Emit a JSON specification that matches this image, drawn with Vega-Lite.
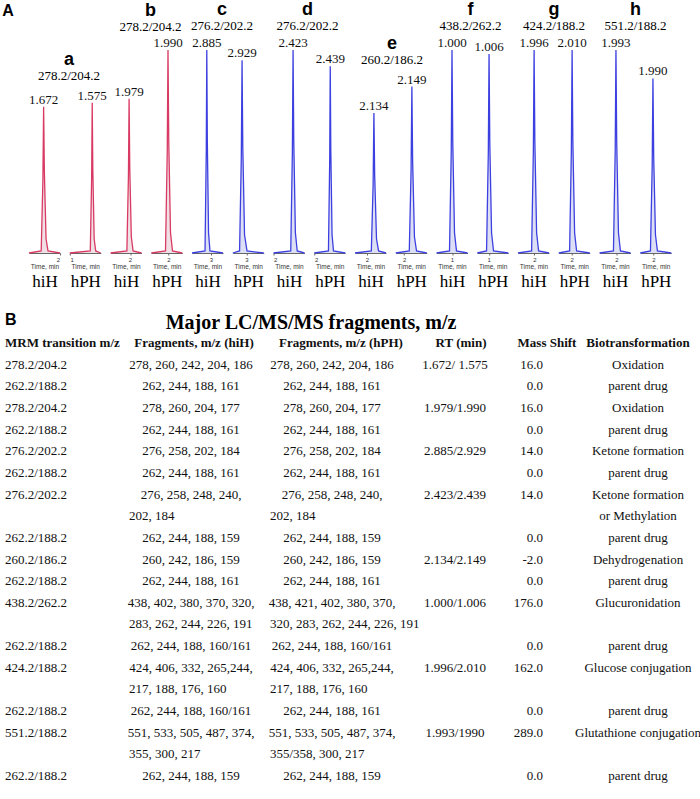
{
 "$schema": "https://vega.github.io/schema/vega-lite/v6.json",
 "background": "white",
 "padding": {"left": 2, "top": 1, "right": 0, "bottom": 0},
 "datasets": {
  "trace": [
   {"p":"a","s":"hiH","t":1.37,"i":0},{"p":"a","s":"hiH","t":1.622,"i":1},{"p":"a","s":"hiH","t":1.657,"i":36},{"p":"a","s":"hiH","t":1.672,"i":72},{"p":"a","s":"hiH","t":1.687,"i":40},{"p":"a","s":"hiH","t":1.722,"i":7},{"p":"a","s":"hiH","t":1.762,"i":1},{"p":"a","s":"hiH","t":2.01,"i":0},
   {"p":"a","s":"hPH","t":0.995,"i":0},{"p":"a","s":"hPH","t":1.525,"i":1},{"p":"a","s":"hPH","t":1.56,"i":37},{"p":"a","s":"hPH","t":1.575,"i":74},{"p":"a","s":"hPH","t":1.59,"i":41},{"p":"a","s":"hPH","t":1.625,"i":7},{"p":"a","s":"hPH","t":1.665,"i":1},{"p":"a","s":"hPH","t":1.795,"i":0},
   {"p":"b","s":"hiH","t":1.559,"i":0},{"p":"b","s":"hiH","t":1.929,"i":1},{"p":"b","s":"hiH","t":1.964,"i":38},{"p":"b","s":"hiH","t":1.979,"i":76},{"p":"b","s":"hiH","t":1.994,"i":42},{"p":"b","s":"hiH","t":2.029,"i":8},{"p":"b","s":"hiH","t":2.069,"i":1},{"p":"b","s":"hiH","t":2.259,"i":0},
   {"p":"b","s":"hPH","t":1.655,"i":0},{"p":"b","s":"hPH","t":1.94,"i":1},{"p":"b","s":"hPH","t":1.975,"i":50},{"p":"b","s":"hPH","t":1.99,"i":100},{"p":"b","s":"hPH","t":2.005,"i":55},{"p":"b","s":"hPH","t":2.04,"i":10},{"p":"b","s":"hPH","t":2.08,"i":1},{"p":"b","s":"hPH","t":2.275,"i":0},
   {"p":"c","s":"hiH","t":2.465,"i":0},{"p":"c","s":"hiH","t":2.835,"i":1},{"p":"c","s":"hiH","t":2.87,"i":50},{"p":"c","s":"hiH","t":2.885,"i":100},{"p":"c","s":"hiH","t":2.9,"i":55},{"p":"c","s":"hiH","t":2.935,"i":10},{"p":"c","s":"hiH","t":2.975,"i":1},{"p":"c","s":"hiH","t":3.345,"i":0},
   {"p":"c","s":"hPH","t":2.779,"i":0},{"p":"c","s":"hPH","t":2.889,"i":1},{"p":"c","s":"hPH","t":2.917,"i":47},{"p":"c","s":"hPH","t":2.929,"i":95},{"p":"c","s":"hPH","t":2.941,"i":52},{"p":"c","s":"hPH","t":2.969,"i":9},{"p":"c","s":"hPH","t":3.009,"i":1},{"p":"c","s":"hPH","t":3.279,"i":0},
   {"p":"d","s":"hiH","t":2.0,"i":0},{"p":"d","s":"hiH","t":2.373,"i":1},{"p":"d","s":"hiH","t":2.408,"i":50},{"p":"d","s":"hiH","t":2.423,"i":100},{"p":"d","s":"hiH","t":2.438,"i":55},{"p":"d","s":"hiH","t":2.473,"i":10},{"p":"d","s":"hiH","t":2.513,"i":1},{"p":"d","s":"hiH","t":2.67,"i":0},
   {"p":"d","s":"hPH","t":1.995,"i":0},{"p":"d","s":"hPH","t":2.389,"i":1},{"p":"d","s":"hPH","t":2.424,"i":46},{"p":"d","s":"hPH","t":2.439,"i":92},{"p":"d","s":"hPH","t":2.454,"i":51},{"p":"d","s":"hPH","t":2.489,"i":9},{"p":"d","s":"hPH","t":2.529,"i":1},{"p":"d","s":"hPH","t":2.855,"i":0},
   {"p":"e","s":"hiH","t":1.768,"i":0},{"p":"e","s":"hiH","t":2.084,"i":1},{"p":"e","s":"hiH","t":2.119,"i":34},{"p":"e","s":"hiH","t":2.134,"i":69},{"p":"e","s":"hiH","t":2.149,"i":38},{"p":"e","s":"hiH","t":2.184,"i":7},{"p":"e","s":"hiH","t":2.224,"i":1},{"p":"e","s":"hiH","t":2.368,"i":0},
   {"p":"e","s":"hPH","t":1.837,"i":0},{"p":"e","s":"hPH","t":2.099,"i":1},{"p":"e","s":"hPH","t":2.134,"i":41},{"p":"e","s":"hPH","t":2.149,"i":82},{"p":"e","s":"hPH","t":2.164,"i":45},{"p":"e","s":"hPH","t":2.199,"i":8},{"p":"e","s":"hPH","t":2.239,"i":1},{"p":"e","s":"hPH","t":2.437,"i":0},
   {"p":"f","s":"hiH","t":0.69,"i":0},{"p":"f","s":"hiH","t":0.95,"i":1},{"p":"f","s":"hiH","t":0.985,"i":50},{"p":"f","s":"hiH","t":1.0,"i":100},{"p":"f","s":"hiH","t":1.015,"i":55},{"p":"f","s":"hiH","t":1.05,"i":10},{"p":"f","s":"hiH","t":1.09,"i":1},{"p":"f","s":"hiH","t":1.31,"i":0},
   {"p":"f","s":"hPH","t":0.77,"i":0},{"p":"f","s":"hPH","t":0.956,"i":1},{"p":"f","s":"hPH","t":0.991,"i":49},{"p":"f","s":"hPH","t":1.006,"i":98},{"p":"f","s":"hPH","t":1.021,"i":54},{"p":"f","s":"hPH","t":1.056,"i":10},{"p":"f","s":"hPH","t":1.096,"i":1},{"p":"f","s":"hPH","t":1.39,"i":0},
   {"p":"g","s":"hiH","t":1.674,"i":0},{"p":"g","s":"hiH","t":1.946,"i":1},{"p":"g","s":"hiH","t":1.981,"i":50},{"p":"g","s":"hiH","t":1.996,"i":100},{"p":"g","s":"hiH","t":2.011,"i":55},{"p":"g","s":"hiH","t":2.046,"i":10},{"p":"g","s":"hiH","t":2.086,"i":1},{"p":"g","s":"hiH","t":2.294,"i":0},
   {"p":"g","s":"hPH","t":1.743,"i":0},{"p":"g","s":"hPH","t":1.96,"i":1},{"p":"g","s":"hPH","t":1.995,"i":50},{"p":"g","s":"hPH","t":2.01,"i":100},{"p":"g","s":"hPH","t":2.025,"i":55},{"p":"g","s":"hPH","t":2.06,"i":10},{"p":"g","s":"hPH","t":2.1,"i":1},{"p":"g","s":"hPH","t":2.363,"i":0},
   {"p":"h","s":"hiH","t":1.664,"i":0},{"p":"h","s":"hiH","t":1.943,"i":1},{"p":"h","s":"hiH","t":1.978,"i":50},{"p":"h","s":"hiH","t":1.993,"i":100},{"p":"h","s":"hiH","t":2.008,"i":55},{"p":"h","s":"hiH","t":2.043,"i":10},{"p":"h","s":"hiH","t":2.083,"i":1},{"p":"h","s":"hiH","t":2.284,"i":0},
   {"p":"h","s":"hPH","t":1.736,"i":0},{"p":"h","s":"hPH","t":1.94,"i":1},{"p":"h","s":"hPH","t":1.975,"i":43},{"p":"h","s":"hPH","t":1.99,"i":86},{"p":"h","s":"hPH","t":2.005,"i":47},{"p":"h","s":"hPH","t":2.04,"i":9},{"p":"h","s":"hPH","t":2.08,"i":1},{"p":"h","s":"hPH","t":2.356,"i":0}
  ],
  "headers": [
   {"l":-1,"c":0,"t":"MRM transition m/z"},{"l":-1,"c":1,"t":"Fragments, m/z (hiH)"},{"l":-1,"c":2,"t":"Fragments, m/z (hPH)"},{"l":-1,"c":3,"t":"RT (min)"},{"l":-1,"c":4,"t":"Mass Shift"},{"l":-1,"c":5,"t":"Biotransformation"}
  ],
  "cells": [
   {"l":0,"c":0,"t":"278.2/204.2"},{"l":0,"c":1,"t":"278, 260, 242, 204, 186"},{"l":0,"c":2,"t":"278, 260, 242, 204, 186"},{"l":0,"c":3,"t":"1.672/ 1.575"},{"l":0,"c":4,"t":"16.0"},{"l":0,"c":5,"t":"Oxidation"},
   {"l":1,"c":0,"t":"262.2/188.2"},{"l":1,"c":1,"t":"262, 244, 188, 161"},{"l":1,"c":2,"t":"262, 244, 188, 161"},{"l":1,"c":4,"t":"0.0"},{"l":1,"c":5,"t":"parent drug"},
   {"l":2,"c":0,"t":"278.2/204.2"},{"l":2,"c":1,"t":"278, 260, 204, 177"},{"l":2,"c":2,"t":"278, 260, 204, 177"},{"l":2,"c":3,"t":"1.979/1.990"},{"l":2,"c":4,"t":"16.0"},{"l":2,"c":5,"t":"Oxidation"},
   {"l":3,"c":0,"t":"262.2/188.2"},{"l":3,"c":1,"t":"262, 244, 188, 161"},{"l":3,"c":2,"t":"262, 244, 188, 161"},{"l":3,"c":4,"t":"0.0"},{"l":3,"c":5,"t":"parent drug"},
   {"l":4,"c":0,"t":"276.2/202.2"},{"l":4,"c":1,"t":"276, 258, 202, 184"},{"l":4,"c":2,"t":"276, 258, 202, 184"},{"l":4,"c":3,"t":"2.885/2.929"},{"l":4,"c":4,"t":"14.0"},{"l":4,"c":5,"t":"Ketone formation"},
   {"l":5,"c":0,"t":"262.2/188.2"},{"l":5,"c":1,"t":"262, 244, 188, 161"},{"l":5,"c":2,"t":"262, 244, 188, 161"},{"l":5,"c":4,"t":"0.0"},{"l":5,"c":5,"t":"parent drug"},
   {"l":6,"c":0,"t":"276.2/202.2"},{"l":6,"c":1,"t":"276, 258, 248, 240,"},{"l":6,"c":2,"t":"276, 258, 248, 240,"},{"l":6,"c":3,"t":"2.423/2.439"},{"l":6,"c":4,"t":"14.0"},{"l":6,"c":5,"t":"Ketone formation"},
   {"l":7,"c":1,"t":"202, 184","p":2},{"l":7,"c":2,"t":"202, 184","p":2},{"l":7,"c":5,"t":"or Methylation","p":2},
   {"l":8,"c":0,"t":"262.2/188.2"},{"l":8,"c":1,"t":"262, 244, 188, 159"},{"l":8,"c":2,"t":"262, 244, 188, 159"},{"l":8,"c":4,"t":"0.0"},{"l":8,"c":5,"t":"parent drug"},
   {"l":9,"c":0,"t":"260.2/186.2"},{"l":9,"c":1,"t":"260, 242, 186, 159"},{"l":9,"c":2,"t":"260, 242, 186, 159"},{"l":9,"c":3,"t":"2.134/2.149"},{"l":9,"c":4,"t":"-2.0"},{"l":9,"c":5,"t":"Dehydrogenation"},
   {"l":10,"c":0,"t":"262.2/188.2"},{"l":10,"c":1,"t":"262, 244, 188, 161"},{"l":10,"c":2,"t":"262, 244, 188, 161"},{"l":10,"c":4,"t":"0.0"},{"l":10,"c":5,"t":"parent drug"},
   {"l":11,"c":0,"t":"438.2/262.2"},{"l":11,"c":1,"t":"438, 402, 380, 370, 320,"},{"l":11,"c":2,"t":"438, 421, 402, 380, 370,"},{"l":11,"c":3,"t":"1.000/1.006"},{"l":11,"c":4,"t":"176.0"},{"l":11,"c":5,"t":"Glucuronidation"},
   {"l":12,"c":1,"t":"283, 262, 244, 226, 191","p":2},{"l":12,"c":2,"t":"320, 283, 262, 244, 226, 191","p":2},
   {"l":13,"c":0,"t":"262.2/188.2"},{"l":13,"c":1,"t":"262, 244, 188, 160/161"},{"l":13,"c":2,"t":"262, 244, 188, 160/161"},{"l":13,"c":4,"t":"0.0"},{"l":13,"c":5,"t":"parent drug"},
   {"l":14,"c":0,"t":"424.2/188.2"},{"l":14,"c":1,"t":"424, 406, 332, 265,244,"},{"l":14,"c":2,"t":"424, 406, 332, 265,244,"},{"l":14,"c":3,"t":"1.996/2.010"},{"l":14,"c":4,"t":"162.0"},{"l":14,"c":5,"t":"Glucose conjugation"},
   {"l":15,"c":1,"t":"217, 188, 176, 160","p":2},{"l":15,"c":2,"t":"217, 188, 176, 160","p":2},
   {"l":16,"c":0,"t":"262.2/188.2"},{"l":16,"c":1,"t":"262, 244, 188, 160/161"},{"l":16,"c":2,"t":"262, 244, 188, 161"},{"l":16,"c":4,"t":"0.0"},{"l":16,"c":5,"t":"parent drug"},
   {"l":17,"c":0,"t":"551.2/188.2"},{"l":17,"c":1,"t":"551, 533, 505, 487, 374,"},{"l":17,"c":2,"t":"551, 533, 505, 487, 374,"},{"l":17,"c":3,"t":"1.993/1990"},{"l":17,"c":4,"t":"289.0"},{"l":17,"c":5,"t":"Glutathione conjugation"},
   {"l":18,"c":1,"t":"355, 300, 217","p":2},{"l":18,"c":2,"t":"355/358, 300, 217","p":2},
   {"l":19,"c":0,"t":"262.2/188.2"},{"l":19,"c":1,"t":"262, 244, 188, 159"},{"l":19,"c":2,"t":"262, 244, 188, 159"},{"l":19,"c":4,"t":"0.0"},{"l":19,"c":5,"t":"parent drug"}
  ]
 },
 "vconcat": [
  {
   "data": {"name": "trace"},
   "title": {"text": "A", "orient": "left", "angle": 0, "anchor": "end", "align": "right", "baseline": "top", "offset": 1, "fontSize": 16, "dy": 2},
   "spacing": 9.75,
   "bounds": "flush",
   "hconcat": [
    {"transform":[{"filter":"datum.p=='a' && datum.s=='hiH'"}],"title":{"text":"a","subtitle":"278.2/204.2","anchor":"end","frame":"group","align":"center","dx":9,"offset":-32.5},"width":31,"height":203,"resolve":{"axis":{"x":"independent"}},"layer":[
      {"mark":{"type":"area","color":"#ead3da","line":{"color":"#d93a63","strokeWidth":1.3}},"encoding":{"x":{"field":"t","type":"quantitative","scale":{"zero":false,"nice":false},"axis":{"values":[1,2,3],"format":"d","title":"Time, min"}},"y":{"field":"i","type":"quantitative","scale":{"domain":[0,100],"nice":false},"axis":null}}},
      {"transform":[{"joinaggregate":[{"op":"max","field":"i","as":"m"}]},{"filter":"datum.i==datum.m"}],"mark":{"type":"text","dy":-7},"encoding":{"x":{"field":"t","type":"quantitative","axis":{"orient":"bottom","offset":20,"title":"hiH","domain":false,"ticks":false,"labels":false,"titleFont":"Liberation Serif","titleFontSize":17,"titleFontWeight":"normal","titleColor":"#000","titlePadding":0}},"y":{"field":"i","type":"quantitative"},"text":{"field":"t","type":"quantitative","format":".3f"}}}]},
    {"transform":[{"filter":"datum.p=='a' && datum.s=='hPH'"}],"width":31,"height":203,"resolve":{"axis":{"x":"independent"}},"layer":[
      {"mark":{"type":"area","color":"#ead3da","line":{"color":"#d93a63","strokeWidth":1.3}},"encoding":{"x":{"field":"t","type":"quantitative","scale":{"zero":false,"nice":false},"axis":{"values":[1,2,3],"format":"d","title":"Time, min"}},"y":{"field":"i","type":"quantitative","scale":{"domain":[0,100],"nice":false},"axis":null}}},
      {"transform":[{"joinaggregate":[{"op":"max","field":"i","as":"m"}]},{"filter":"datum.i==datum.m"}],"mark":{"type":"text","dy":-7},"encoding":{"x":{"field":"t","type":"quantitative","axis":{"orient":"bottom","offset":20,"title":"hPH","domain":false,"ticks":false,"labels":false,"titleFont":"Liberation Serif","titleFontSize":17,"titleFontWeight":"normal","titleColor":"#000","titlePadding":0}},"y":{"field":"i","type":"quantitative"},"text":{"field":"t","type":"quantitative","format":".3f"}}}]},
    {"transform":[{"filter":"datum.p=='b' && datum.s=='hiH'"}],"title":{"text":"b","subtitle":"278.2/204.2","anchor":"end","frame":"group","align":"center","dx":9,"offset":16.5},"width":31,"height":203,"resolve":{"axis":{"x":"independent"}},"layer":[
      {"mark":{"type":"area","color":"#ead3da","line":{"color":"#d93a63","strokeWidth":1.3}},"encoding":{"x":{"field":"t","type":"quantitative","scale":{"zero":false,"nice":false},"axis":{"values":[1,2,3],"format":"d","title":"Time, min"}},"y":{"field":"i","type":"quantitative","scale":{"domain":[0,100],"nice":false},"axis":null}}},
      {"transform":[{"joinaggregate":[{"op":"max","field":"i","as":"m"}]},{"filter":"datum.i==datum.m"}],"mark":{"type":"text","dy":-7},"encoding":{"x":{"field":"t","type":"quantitative","axis":{"orient":"bottom","offset":20,"title":"hiH","domain":false,"ticks":false,"labels":false,"titleFont":"Liberation Serif","titleFontSize":17,"titleFontWeight":"normal","titleColor":"#000","titlePadding":0}},"y":{"field":"i","type":"quantitative"},"text":{"field":"t","type":"quantitative","format":".3f"}}}]},
    {"transform":[{"filter":"datum.p=='b' && datum.s=='hPH'"}],"width":31,"height":203,"resolve":{"axis":{"x":"independent"}},"layer":[
      {"mark":{"type":"area","color":"#ead3da","line":{"color":"#d93a63","strokeWidth":1.3}},"encoding":{"x":{"field":"t","type":"quantitative","scale":{"zero":false,"nice":false},"axis":{"values":[1,2,3],"format":"d","title":"Time, min"}},"y":{"field":"i","type":"quantitative","scale":{"domain":[0,100],"nice":false},"axis":null}}},
      {"transform":[{"joinaggregate":[{"op":"max","field":"i","as":"m"}]},{"filter":"datum.i==datum.m"}],"mark":{"type":"text","dy":-7},"encoding":{"x":{"field":"t","type":"quantitative","axis":{"orient":"bottom","offset":20,"title":"hPH","domain":false,"ticks":false,"labels":false,"titleFont":"Liberation Serif","titleFontSize":17,"titleFontWeight":"normal","titleColor":"#000","titlePadding":0}},"y":{"field":"i","type":"quantitative"},"text":{"field":"t","type":"quantitative","format":".3f"}}}]},
    {"transform":[{"filter":"datum.p=='c' && datum.s=='hiH'"}],"title":{"text":"c","subtitle":"276.2/202.2","anchor":"end","frame":"group","align":"center","dx":-1,"offset":4},"width":31,"height":203,"resolve":{"axis":{"x":"independent"}},"layer":[
      {"mark":{"type":"area","color":"#cfd2f0","line":{"color":"#3d40e0","strokeWidth":1.3}},"encoding":{"x":{"field":"t","type":"quantitative","scale":{"zero":false,"nice":false},"axis":{"values":[1,2,3],"format":"d","title":"Time, min"}},"y":{"field":"i","type":"quantitative","scale":{"domain":[0,100],"nice":false},"axis":null}}},
      {"transform":[{"joinaggregate":[{"op":"max","field":"i","as":"m"}]},{"filter":"datum.i==datum.m"}],"mark":{"type":"text","dy":-7},"encoding":{"x":{"field":"t","type":"quantitative","axis":{"orient":"bottom","offset":20,"title":"hiH","domain":false,"ticks":false,"labels":false,"titleFont":"Liberation Serif","titleFontSize":17,"titleFontWeight":"normal","titleColor":"#000","titlePadding":0}},"y":{"field":"i","type":"quantitative"},"text":{"field":"t","type":"quantitative","format":".3f"}}}]},
    {"transform":[{"filter":"datum.p=='c' && datum.s=='hPH'"}],"width":31,"height":203,"resolve":{"axis":{"x":"independent"}},"layer":[
      {"mark":{"type":"area","color":"#cfd2f0","line":{"color":"#3d40e0","strokeWidth":1.3}},"encoding":{"x":{"field":"t","type":"quantitative","scale":{"zero":false,"nice":false},"axis":{"values":[1,2,3],"format":"d","title":"Time, min"}},"y":{"field":"i","type":"quantitative","scale":{"domain":[0,100],"nice":false},"axis":null}}},
      {"transform":[{"joinaggregate":[{"op":"max","field":"i","as":"m"}]},{"filter":"datum.i==datum.m"}],"mark":{"type":"text","dy":-7},"encoding":{"x":{"field":"t","type":"quantitative","axis":{"orient":"bottom","offset":20,"title":"hPH","domain":false,"ticks":false,"labels":false,"titleFont":"Liberation Serif","titleFontSize":17,"titleFontWeight":"normal","titleColor":"#000","titlePadding":0}},"y":{"field":"i","type":"quantitative"},"text":{"field":"t","type":"quantitative","format":".3f"}}}]},
    {"transform":[{"filter":"datum.p=='d' && datum.s=='hiH'"}],"title":{"text":"d","subtitle":"276.2/202.2","anchor":"end","frame":"group","align":"center","dx":3,"offset":4},"width":31,"height":203,"resolve":{"axis":{"x":"independent"}},"layer":[
      {"mark":{"type":"area","color":"#cfd2f0","line":{"color":"#3d40e0","strokeWidth":1.3}},"encoding":{"x":{"field":"t","type":"quantitative","scale":{"zero":false,"nice":false},"axis":{"values":[1,2,3],"format":"d","title":"Time, min"}},"y":{"field":"i","type":"quantitative","scale":{"domain":[0,100],"nice":false},"axis":null}}},
      {"transform":[{"joinaggregate":[{"op":"max","field":"i","as":"m"}]},{"filter":"datum.i==datum.m"}],"mark":{"type":"text","dy":-7},"encoding":{"x":{"field":"t","type":"quantitative","axis":{"orient":"bottom","offset":20,"title":"hiH","domain":false,"ticks":false,"labels":false,"titleFont":"Liberation Serif","titleFontSize":17,"titleFontWeight":"normal","titleColor":"#000","titlePadding":0}},"y":{"field":"i","type":"quantitative"},"text":{"field":"t","type":"quantitative","format":".3f"}}}]},
    {"transform":[{"filter":"datum.p=='d' && datum.s=='hPH'"}],"width":31,"height":203,"resolve":{"axis":{"x":"independent"}},"layer":[
      {"mark":{"type":"area","color":"#cfd2f0","line":{"color":"#3d40e0","strokeWidth":1.3}},"encoding":{"x":{"field":"t","type":"quantitative","scale":{"zero":false,"nice":false},"axis":{"values":[1,2,3],"format":"d","title":"Time, min"}},"y":{"field":"i","type":"quantitative","scale":{"domain":[0,100],"nice":false},"axis":null}}},
      {"transform":[{"joinaggregate":[{"op":"max","field":"i","as":"m"}]},{"filter":"datum.i==datum.m"}],"mark":{"type":"text","dy":-7},"encoding":{"x":{"field":"t","type":"quantitative","axis":{"orient":"bottom","offset":20,"title":"hPH","domain":false,"ticks":false,"labels":false,"titleFont":"Liberation Serif","titleFontSize":17,"titleFontWeight":"normal","titleColor":"#000","titlePadding":0}},"y":{"field":"i","type":"quantitative"},"text":{"field":"t","type":"quantitative","format":".3f"}}}]},
    {"transform":[{"filter":"datum.p=='e' && datum.s=='hiH'"}],"title":{"text":"e","subtitle":"260.2/186.2","anchor":"end","frame":"group","align":"center","dx":6,"offset":-16.5},"width":31,"height":203,"resolve":{"axis":{"x":"independent"}},"layer":[
      {"mark":{"type":"area","color":"#cfd2f0","line":{"color":"#3d40e0","strokeWidth":1.3}},"encoding":{"x":{"field":"t","type":"quantitative","scale":{"zero":false,"nice":false},"axis":{"values":[1,2,3],"format":"d","title":"Time, min"}},"y":{"field":"i","type":"quantitative","scale":{"domain":[0,100],"nice":false},"axis":null}}},
      {"transform":[{"joinaggregate":[{"op":"max","field":"i","as":"m"}]},{"filter":"datum.i==datum.m"}],"mark":{"type":"text","dy":-7},"encoding":{"x":{"field":"t","type":"quantitative","axis":{"orient":"bottom","offset":20,"title":"hiH","domain":false,"ticks":false,"labels":false,"titleFont":"Liberation Serif","titleFontSize":17,"titleFontWeight":"normal","titleColor":"#000","titlePadding":0}},"y":{"field":"i","type":"quantitative"},"text":{"field":"t","type":"quantitative","format":".3f"}}}]},
    {"transform":[{"filter":"datum.p=='e' && datum.s=='hPH'"}],"width":31,"height":203,"resolve":{"axis":{"x":"independent"}},"layer":[
      {"mark":{"type":"area","color":"#cfd2f0","line":{"color":"#3d40e0","strokeWidth":1.3}},"encoding":{"x":{"field":"t","type":"quantitative","scale":{"zero":false,"nice":false},"axis":{"values":[1,2,3],"format":"d","title":"Time, min"}},"y":{"field":"i","type":"quantitative","scale":{"domain":[0,100],"nice":false},"axis":null}}},
      {"transform":[{"joinaggregate":[{"op":"max","field":"i","as":"m"}]},{"filter":"datum.i==datum.m"}],"mark":{"type":"text","dy":-7},"encoding":{"x":{"field":"t","type":"quantitative","axis":{"orient":"bottom","offset":20,"title":"hPH","domain":false,"ticks":false,"labels":false,"titleFont":"Liberation Serif","titleFontSize":17,"titleFontWeight":"normal","titleColor":"#000","titlePadding":0}},"y":{"field":"i","type":"quantitative"},"text":{"field":"t","type":"quantitative","format":".3f"}}}]},
    {"transform":[{"filter":"datum.p=='f' && datum.s=='hiH'"}],"title":{"text":"f","subtitle":"438.2/262.2","anchor":"end","frame":"group","align":"center","dx":3,"offset":4},"width":31,"height":203,"resolve":{"axis":{"x":"independent"}},"layer":[
      {"mark":{"type":"area","color":"#cfd2f0","line":{"color":"#3d40e0","strokeWidth":1.3}},"encoding":{"x":{"field":"t","type":"quantitative","scale":{"zero":false,"nice":false},"axis":{"values":[1,2,3],"format":"d","title":"Time, min"}},"y":{"field":"i","type":"quantitative","scale":{"domain":[0,100],"nice":false},"axis":null}}},
      {"transform":[{"joinaggregate":[{"op":"max","field":"i","as":"m"}]},{"filter":"datum.i==datum.m"}],"mark":{"type":"text","dy":-7},"encoding":{"x":{"field":"t","type":"quantitative","axis":{"orient":"bottom","offset":20,"title":"hiH","domain":false,"ticks":false,"labels":false,"titleFont":"Liberation Serif","titleFontSize":17,"titleFontWeight":"normal","titleColor":"#000","titlePadding":0}},"y":{"field":"i","type":"quantitative"},"text":{"field":"t","type":"quantitative","format":".3f"}}}]},
    {"transform":[{"filter":"datum.p=='f' && datum.s=='hPH'"}],"width":31,"height":203,"resolve":{"axis":{"x":"independent"}},"layer":[
      {"mark":{"type":"area","color":"#cfd2f0","line":{"color":"#3d40e0","strokeWidth":1.3}},"encoding":{"x":{"field":"t","type":"quantitative","scale":{"zero":false,"nice":false},"axis":{"values":[1,2,3],"format":"d","title":"Time, min"}},"y":{"field":"i","type":"quantitative","scale":{"domain":[0,100],"nice":false},"axis":null}}},
      {"transform":[{"joinaggregate":[{"op":"max","field":"i","as":"m"}]},{"filter":"datum.i==datum.m"}],"mark":{"type":"text","dy":-7},"encoding":{"x":{"field":"t","type":"quantitative","axis":{"orient":"bottom","offset":20,"title":"hPH","domain":false,"ticks":false,"labels":false,"titleFont":"Liberation Serif","titleFontSize":17,"titleFontWeight":"normal","titleColor":"#000","titlePadding":0}},"y":{"field":"i","type":"quantitative"},"text":{"field":"t","type":"quantitative","format":".3f"}}}]},
    {"transform":[{"filter":"datum.p=='g' && datum.s=='hiH'"}],"title":{"text":"g","subtitle":"424.2/188.2","anchor":"end","frame":"group","align":"center","dx":5,"offset":4},"width":31,"height":203,"resolve":{"axis":{"x":"independent"}},"layer":[
      {"mark":{"type":"area","color":"#cfd2f0","line":{"color":"#3d40e0","strokeWidth":1.3}},"encoding":{"x":{"field":"t","type":"quantitative","scale":{"zero":false,"nice":false},"axis":{"values":[1,2,3],"format":"d","title":"Time, min"}},"y":{"field":"i","type":"quantitative","scale":{"domain":[0,100],"nice":false},"axis":null}}},
      {"transform":[{"joinaggregate":[{"op":"max","field":"i","as":"m"}]},{"filter":"datum.i==datum.m"}],"mark":{"type":"text","dy":-7},"encoding":{"x":{"field":"t","type":"quantitative","axis":{"orient":"bottom","offset":20,"title":"hiH","domain":false,"ticks":false,"labels":false,"titleFont":"Liberation Serif","titleFontSize":17,"titleFontWeight":"normal","titleColor":"#000","titlePadding":0}},"y":{"field":"i","type":"quantitative"},"text":{"field":"t","type":"quantitative","format":".3f"}}}]},
    {"transform":[{"filter":"datum.p=='g' && datum.s=='hPH'"}],"width":31,"height":203,"resolve":{"axis":{"x":"independent"}},"layer":[
      {"mark":{"type":"area","color":"#cfd2f0","line":{"color":"#3d40e0","strokeWidth":1.3}},"encoding":{"x":{"field":"t","type":"quantitative","scale":{"zero":false,"nice":false},"axis":{"values":[1,2,3],"format":"d","title":"Time, min"}},"y":{"field":"i","type":"quantitative","scale":{"domain":[0,100],"nice":false},"axis":null}}},
      {"transform":[{"joinaggregate":[{"op":"max","field":"i","as":"m"}]},{"filter":"datum.i==datum.m"}],"mark":{"type":"text","dy":-7},"encoding":{"x":{"field":"t","type":"quantitative","axis":{"orient":"bottom","offset":20,"title":"hPH","domain":false,"ticks":false,"labels":false,"titleFont":"Liberation Serif","titleFontSize":17,"titleFontWeight":"normal","titleColor":"#000","titlePadding":0}},"y":{"field":"i","type":"quantitative"},"text":{"field":"t","type":"quantitative","format":".3f"}}}]},
    {"transform":[{"filter":"datum.p=='h' && datum.s=='hiH'"}],"title":{"text":"h","subtitle":"551.2/188.2","anchor":"end","frame":"group","align":"center","dx":5,"offset":4},"width":31,"height":203,"resolve":{"axis":{"x":"independent"}},"layer":[
      {"mark":{"type":"area","color":"#cfd2f0","line":{"color":"#3d40e0","strokeWidth":1.3}},"encoding":{"x":{"field":"t","type":"quantitative","scale":{"zero":false,"nice":false},"axis":{"values":[1,2,3],"format":"d","title":"Time, min"}},"y":{"field":"i","type":"quantitative","scale":{"domain":[0,100],"nice":false},"axis":null}}},
      {"transform":[{"joinaggregate":[{"op":"max","field":"i","as":"m"}]},{"filter":"datum.i==datum.m"}],"mark":{"type":"text","dy":-7},"encoding":{"x":{"field":"t","type":"quantitative","axis":{"orient":"bottom","offset":20,"title":"hiH","domain":false,"ticks":false,"labels":false,"titleFont":"Liberation Serif","titleFontSize":17,"titleFontWeight":"normal","titleColor":"#000","titlePadding":0}},"y":{"field":"i","type":"quantitative"},"text":{"field":"t","type":"quantitative","format":".3f"}}}]},
    {"transform":[{"filter":"datum.p=='h' && datum.s=='hPH'"}],"width":31,"height":203,"resolve":{"axis":{"x":"independent"}},"layer":[
      {"mark":{"type":"area","color":"#cfd2f0","line":{"color":"#3d40e0","strokeWidth":1.3}},"encoding":{"x":{"field":"t","type":"quantitative","scale":{"zero":false,"nice":false},"axis":{"values":[1,2,3],"format":"d","title":"Time, min"}},"y":{"field":"i","type":"quantitative","scale":{"domain":[0,100],"nice":false},"axis":null}}},
      {"transform":[{"joinaggregate":[{"op":"max","field":"i","as":"m"}]},{"filter":"datum.i==datum.m"}],"mark":{"type":"text","dy":-7},"encoding":{"x":{"field":"t","type":"quantitative","axis":{"orient":"bottom","offset":20,"title":"hPH","domain":false,"ticks":false,"labels":false,"titleFont":"Liberation Serif","titleFontSize":17,"titleFontWeight":"normal","titleColor":"#000","titlePadding":0}},"y":{"field":"i","type":"quantitative"},"text":{"field":"t","type":"quantitative","format":".3f"}}}]}
   ]
  },
  {
   "title": {"text": "B", "anchor": "start", "frame": "bounds", "fontSize": 16, "offset": 0, "dy": 15},
   "vconcat": [
    {
     "title": {"text": "Major LC/MS/MS fragments, m/z", "font": "Liberation Serif", "fontSize": 20, "fontWeight": "bold", "anchor": "middle", "frame": "group", "offset": 4, "dx": -50},
     "width": 664,
     "height": 433,
     "resolve": {"scale": {"x": "independent"}},
     "layer": [
      {"data": {"name": "headers"},
       "layer": [
        {"transform": [{"filter": "datum.c==0"}], "mark": {"type": "text", "align": "left", "fontWeight": "bold"},
         "encoding": {"x": {"field": "c", "type": "quantitative", "scale": {"domain": [0,1,2,3,4,5], "range": [-24,165,312,432,518,609], "nice": false, "zero": false}, "axis": null},
                      "y": {"field": "l", "type": "quantitative", "scale": {"domain": [-1,19], "reverse": true, "nice": false, "zero": false}, "axis": null},
                      "text": {"field": "t"}}},
        {"transform": [{"filter": "datum.c>0"}], "mark": {"type": "text", "align": "center", "fontWeight": "bold"},
         "encoding": {"x": {"field": "c", "type": "quantitative", "scale": {"domain": [0,1,2,3,4,5], "range": [-24,165,312,432,518,609], "nice": false, "zero": false}, "axis": null},
                      "y": {"field": "l", "type": "quantitative", "scale": {"domain": [-1,19], "reverse": true, "nice": false, "zero": false}, "axis": null},
                      "text": {"field": "t"}}}
       ]},
      {"data": {"name": "cells"},
       "layer": [
        {"transform": [{"filter": "datum.c==0"}], "mark": {"type": "text", "align": "left"},
         "encoding": {"x": {"field": "c", "type": "quantitative", "scale": {"domain": [0,1,2,3,4,5], "range": [-24,162,303,426,514,609], "nice": false, "zero": false}, "axis": null},
                      "y": {"field": "l", "type": "quantitative", "scale": {"domain": [-1,19], "reverse": true, "nice": false, "zero": false}, "axis": null},
                      "text": {"field": "t"}}},
        {"transform": [{"filter": "datum.c==3 || datum.c==5 || ((datum.c==1 || datum.c==2) && datum.p != 2)"}], "mark": {"type": "text", "align": "center"},
         "encoding": {"x": {"field": "c", "type": "quantitative", "scale": {"domain": [0,1,2,3,4,5], "range": [-24,162,303,426,514,609], "nice": false, "zero": false}, "axis": null},
                      "y": {"field": "l", "type": "quantitative", "scale": {"domain": [-1,19], "reverse": true, "nice": false, "zero": false}, "axis": null},
                      "text": {"field": "t"}}},
        {"transform": [{"filter": "datum.c==4"}], "mark": {"type": "text", "align": "right"},
         "encoding": {"x": {"field": "c", "type": "quantitative", "scale": {"domain": [0,1,2,3,4,5], "range": [-24,162,303,426,514,609], "nice": false, "zero": false}, "axis": null},
                      "y": {"field": "l", "type": "quantitative", "scale": {"domain": [-1,19], "reverse": true, "nice": false, "zero": false}, "axis": null},
                      "text": {"field": "t"}}},
        {"transform": [{"filter": "(datum.c==1 || datum.c==2) && datum.p == 2"}], "mark": {"type": "text", "align": "left", "dx": -62},
         "encoding": {"x": {"field": "c", "type": "quantitative", "scale": {"domain": [0,1,2,3,4,5], "range": [-24,162,303,426,514,609], "nice": false, "zero": false}, "axis": null},
                      "y": {"field": "l", "type": "quantitative", "scale": {"domain": [-1,19], "reverse": true, "nice": false, "zero": false}, "axis": null},
                      "text": {"field": "t"}}}
       ]}
     ]
    }
   ]
  }
 ],
 "spacing": 23,
 "config": {
  "view": {"stroke": null},
  "font": "Liberation Serif",
  "title": {"font": "Liberation Sans", "fontSize": 18, "fontWeight": "bold", "color": "#000", "subtitleFont": "Liberation Serif", "subtitleFontSize": 13, "subtitleColor": "#000", "subtitlePadding": 1, "anchor": "middle", "offset": 2},
  "text": {"font": "Liberation Serif", "fontSize": 13, "color": "#111"},
  "axis": {"grid": false, "domainColor": "#666", "tickColor": "#666", "tickSize": 2, "labelFont": "Liberation Sans", "labelFontSize": 6, "labelColor": "#333", "labelPadding": 1, "titleFont": "Liberation Sans", "titleFontSize": 6.5, "titleFontWeight": "normal", "titleColor": "#333", "titlePadding": 1}
 }
}
